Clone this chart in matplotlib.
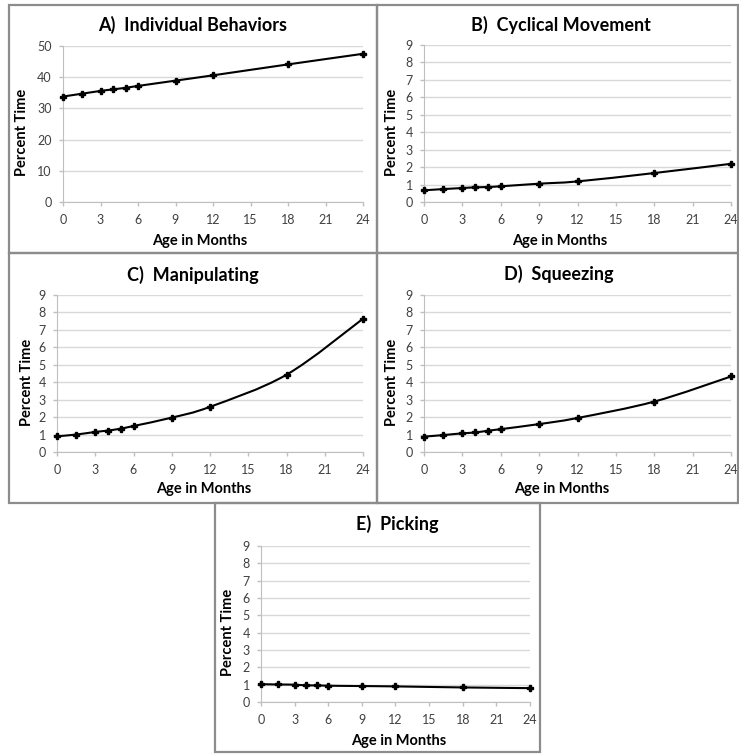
import numpy as np
import matplotlib.pyplot as plt
from matplotlib.path import Path
from matplotlib.patches import PathPatch, Rectangle

W, H = 739, 755
FONT = "Lato"

age = [0, 1.5, 3, 4, 5, 6, 9, 12, 18, 24]
individual = [33.8, 34.7, 35.6, 36.1, 36.6, 37.2, 38.9, 40.6, 44.1, 47.5]
cyclical = [0.67, 0.74, 0.80, 0.84, 0.86, 0.90, 1.05, 1.18, 1.66, 2.19]
manipulating = [0.90, 1.00, 1.15, 1.23, 1.34, 1.49, 1.97, 2.59, 4.43, 7.64]
squeezing = [0.88, 0.97, 1.07, 1.12, 1.22, 1.31, 1.60, 1.95, 2.89, 4.33]
picking = [1.03, 1.01, 1.00, 0.96, 0.96, 0.94, 0.92, 0.90, 0.84, 0.80]

titles = ["A)  Individual Behaviors", "B)  Cyclical Movement", "C)  Manipulating",
          "D)  Squeezing", "E)  Picking"]
series = [individual, cyclical, manipulating, squeezing, picking]
x_ticks = [0, 3, 6, 9, 12, 15, 18, 21, 24]


def px_axes(fig, left, right, top, bottom):
    return fig.add_axes([left / W, 1 - bottom / H, (right - left) / W, (bottom - top) / H])


def smooth_path(x, y):
    # Catmull-Rom style smoothing turned into cubic Bezier segments
    x = np.asarray(x, float)
    y = np.asarray(y, float)
    verts = [(x[0], y[0])]
    codes = [Path.MOVETO]
    n = len(x)
    for i in range(n - 1):
        i0 = max(i - 1, 0)
        i3 = min(i + 2, n - 1)
        c1 = (x[i] + (x[i + 1] - x[i0]) / 6, y[i] + (y[i + 1] - y[i0]) / 6)
        c2 = (x[i + 1] - (x[i3] - x[i]) / 6, y[i + 1] - (y[i3] - y[i]) / 6)
        verts += [c1, c2, (x[i + 1], y[i + 1])]
        codes += [Path.CURVE4] * 3
    return Path(verts, codes)


def draw_panel(ax, y, ymax, ystep):
    ax.set_xlim(0, 24)
    ax.set_ylim(0, ymax)
    ax.set_xticks(x_ticks)
    ax.set_yticks(np.arange(0, ymax + ystep / 2, ystep))
    ax.yaxis.grid(True, color="#d9d9d9", lw=1)
    ax.set_axisbelow(True)
    for s in ["top", "right"]:
        ax.spines[s].set_visible(False)
    for s in ["left", "bottom"]:
        ax.spines[s].set_color("#bfbfbf")
    ax.tick_params(colors="#bfbfbf", labelcolor="#404040", length=3, width=1,
                   labelsize=9)
    ax.tick_params(axis="x", pad=6)
    ax.tick_params(axis="y", pad=5)
    for lab in ax.get_xticklabels() + ax.get_yticklabels():
        lab.set_family(FONT)
    ax.add_patch(PathPatch(smooth_path(age, y), fill=False, lw=1.5, color="black",
                           clip_on=False, zorder=3))
    ax.plot(age, y, ls="none", marker="P", ms=5, color="black", clip_on=False, zorder=4)


fig = plt.figure(figsize=(W / 100, H / 100), dpi=100)

# panel frames
frames = [(9, 377, 5, 253), (377, 738, 5, 253), (9, 377, 253, 503),
          (377, 738, 253, 503), (215, 540, 503, 752)]
for l, r, t, b in frames:
    fig.add_artist(Rectangle((l / W, 1 - b / H), (r - l) / W, (b - t) / H,
                             transform=fig.transFigure, fill=False,
                             edgecolor="#8c8c8c", lw=1.6))

axes_px = [(63, 363, 46, 202), (424, 731, 45, 202), (57, 363, 295, 452),
           (424, 731, 295, 452), (261, 530, 546, 702)]
limits = [(50, 10), (9, 1), (9, 1), (9, 1), (9, 1)]
title_pos = [(193, 25), (561, 25), (193, 275), (559, 274), (397, 524)]
xlabel_pos = [(200, 241), (560, 241), (204, 489), (562, 489), (399, 741)]
ylabel_pos = [(22, 132), (392, 132), (27, 382), (392, 382), (228, 632)]

for i in range(5):
    ax = px_axes(fig, *axes_px[i])
    draw_panel(ax, series[i], *limits[i])
    tx, ty = title_pos[i]
    fig.text(tx / W, 1 - ty / H, titles[i], ha="center", va="center",
             fontsize=13, fontweight="bold", family=FONT)
    xx, xy = xlabel_pos[i]
    fig.text(xx / W, 1 - xy / H, "Age in Months", ha="center", va="center",
             fontsize=10.5, fontweight="bold", family=FONT)
    yx, yy = ylabel_pos[i]
    fig.text(yx / W, 1 - yy / H, "Percent Time", ha="center", va="center",
             rotation=90, fontsize=10.5, fontweight="bold", family=FONT)

fig.savefig("out.png", dpi=100)
